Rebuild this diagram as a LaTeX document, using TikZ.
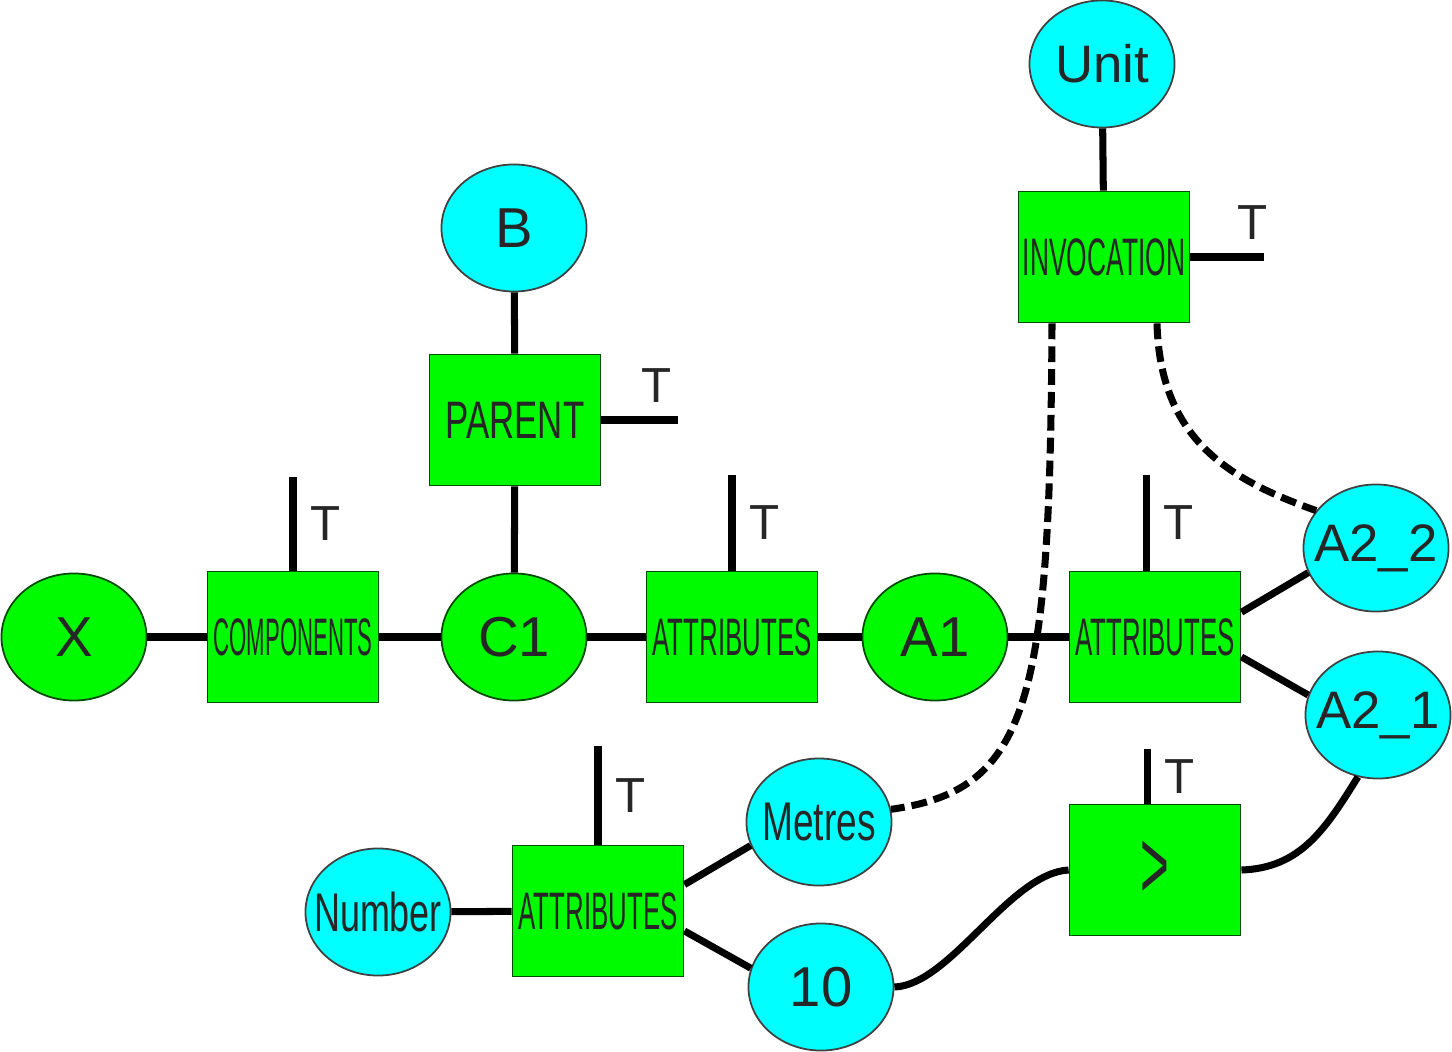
\documentclass[tikz,border=0pt]{standalone}
\usepackage{fontspec}
\setmainfont{Liberation Sans}
\usepackage{graphicx}
\usepackage{tikz}
\usetikzlibrary{shapes.geometric,calc}
\definecolor{relgreen}{RGB}{0,250,0}
\definecolor{valcyan}{RGB}{0,255,255}
\newcommand{\sq}[2]{\scalebox{#1}[1]{#2}}

\begin{document}
\begin{tikzpicture}[x=0.01cm,y=-0.01cm,
  rel/.style={draw=green!30!black,fill=relgreen,minimum width=1.71cm,minimum height=1.31cm,
    inner sep=0pt,line width=0.5pt,text=black!85,font=\fontsize{15}{15}\selectfont},
  ent/.style={ellipse,draw=green!30!black,fill=relgreen,minimum width=1.45cm,minimum height=1.27cm,
    inner xsep=-0.25cm,inner ysep=0pt,line width=0.5pt,text=black!85,font=\fontsize{16}{16}\selectfont},
  val/.style={ent,draw=black!75,fill=valcyan},
  link/.style={line width=2pt},
  weak/.style={link,dash pattern=on 4.5pt off 2pt},
  tmark/.style={inner sep=0pt,text=black!85,font=\fontsize{14}{14}\selectfont}]
\useasboundingbox (0,0) rectangle (1452,1052);

% main chain
\node[ent] (x) at (74,637) {X};
\node[rel] (comp) at (293,637) {\sq{0.42}{COMPONENTS}};
\node[ent] (c1) at (514,637) {C1};
\node[rel] (at1) at (732,637) {\sq{0.49}{ATTRIBUTES}};
\node[ent] (a1) at (935,637) {A1};
\node[rel] (at2) at (1155,637) {\sq{0.49}{ATTRIBUTES}};

% parent
\node[rel] (par) at (515,420) {\sq{0.66}{PARENT}};
\node[val] (b) at (514,228) {B};

% invocation
\node[val,font=\fontsize{15}{15}\selectfont] (unit) at (1102,64) {Unit};
\node[rel] (inv) at (1104,257) {\sq{0.5}{INVOCATION}};

\node[val,font=\fontsize{15}{15}\selectfont] (a22) at (1376,548) {A2\_2};
\node[val,font=\fontsize{15}{15}\selectfont] (a21) at (1378,715) {A2\_1};

% lower part
\node[val,font=\fontsize{15.5}{15.5}\selectfont] (met) at (819,822) {\sq{0.68}{Metres}};
\node[val,font=\fontsize{15.5}{15.5}\selectfont] (num) at (378,912) {\sq{0.66}{Number}};
\node[rel] (at3) at (598,911) {\sq{0.49}{ATTRIBUTES}};
\node[val] (ten) at (821,987) {10};
\node[rel,font=\fontsize{28}{28}\selectfont] (gt) at (1155,870) {\sq{0.5}{>}};

\draw[link] (x) -- (comp);
\draw[link] (comp) -- (c1);
\draw[link] (c1) -- (at1);
\draw[link] (at1) -- (a1);
\draw[link] (a1) -- (at2);
\draw[link] (b) -- (par);
\draw[link] (par) -- (c1);
\draw[link] (unit) -- (inv);
\draw[link] (at2.16) -- (a22.200);
\draw[link] (at2.-13) -- (a21.164);
\draw[link] (num) -- (at3);
\draw[link] (at3.17) -- (met.199);
\draw[link] (at3.-13) -- (ten.165);
\draw[link] (ten.east) .. controls (950,985) and (1010,873) .. (gt.west);
\draw[link] (gt.east) .. controls (1300,868) and (1325,830) .. (a21.252);

\draw[weak] ($(inv.south)+(-52,0)$) .. controls (1050,700) and (1030,790) .. (met.10);
\draw[weak] ($(inv.south)+(53,0)$) .. controls (1160,440) and (1230,480) .. (a22.148);

% T stubs
\draw[link] (comp.north) -- ++(0,-94) coordinate (compT) node[tmark,midway,right=4pt] (tcomp) {T};
\draw[link] (at1.north) -- ++(0,-96) coordinate (at1T) node[tmark,midway,right=4pt] (tat1) {T};
\draw[link] ($(at2.north)+(-9,0)$) -- ++(0,-96) coordinate (at2T) node[tmark,midway,right=4pt] (tat2) {T};
\draw[link] (at3.north) -- ++(0,-99) coordinate (at3T) node[tmark,midway,right=4pt] (tat3) {T};
\draw[link] ($(gt.north)+(-8,0)$) -- ++(0,-55) coordinate (gtT) node[tmark,midway,right=4pt] (tgt) {T};
\draw[link] (par.east) -- ++(77,0) coordinate (parT) node[tmark,pos=0.71,above=4pt] (tpar) {T};
\draw[link] (inv.east) -- ++(74,0) coordinate (invT) node[tmark,pos=0.84,above=4pt] (tinv) {T};
\end{tikzpicture}
\end{document}
